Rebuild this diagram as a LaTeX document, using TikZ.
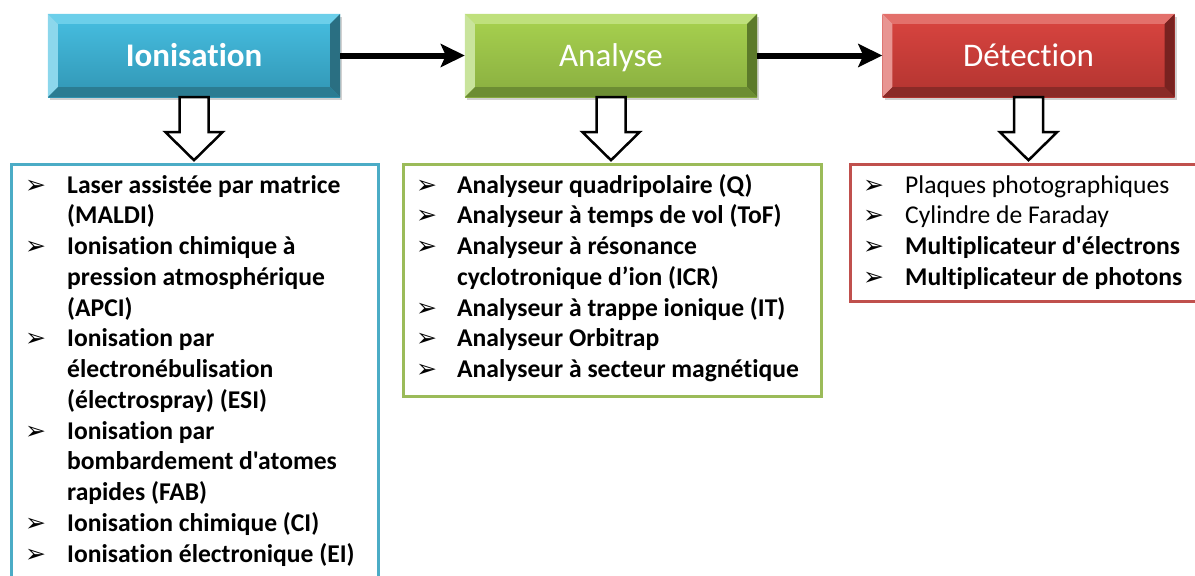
\documentclass[tikz,border=0pt]{standalone}
\usepackage{fontspec}
\newfontfamily\calib{Carlito}[Ligatures={NoCommon}]
\newfontfamily\symfont{DejaVu Sans}
\usetikzlibrary{arrows.meta,shadows}
\definecolor{ionA}{HTML}{47BFE2}
\definecolor{ionB}{HTML}{3196B4}
\definecolor{ionT}{HTML}{6CCFEA}
\definecolor{ionL}{HTML}{8CD7EC}
\definecolor{ionR}{HTML}{2A6F82}
\definecolor{ionD}{HTML}{2B7C92}
\definecolor{ionE}{HTML}{4BACC6}
\definecolor{anaA}{HTML}{A8D24F}
\definecolor{anaB}{HTML}{89AE40}
\definecolor{anaT}{HTML}{BFE07C}
\definecolor{anaL}{HTML}{C9E49C}
\definecolor{anaR}{HTML}{5C7A2A}
\definecolor{anaD}{HTML}{6C8D33}
\definecolor{anaE}{HTML}{9BBB59}
\definecolor{detA}{HTML}{DA4540}
\definecolor{detB}{HTML}{B23430}
\definecolor{detT}{HTML}{E3706B}
\definecolor{detL}{HTML}{E89592}
\definecolor{detR}{HTML}{782220}
\definecolor{detD}{HTML}{8A2A27}
\definecolor{detE}{HTML}{C0504D}
\tikzset{
  hdr/.style={minimum width=292pt, minimum height=83pt, inner sep=0pt, text=white,
    text height=21.2pt, text depth=0pt,
    font=\calib\fontsize{33}{36}\selectfont,
    drop shadow={shadow xshift=2pt, shadow yshift=-3pt, opacity=0.3, fill=black!60}},
  listbox/.style={line width=2.6pt, fill=white, inner sep=0pt, anchor=north west},
  itemtxt/.style={anchor=base west, inner sep=0pt, font=\calib\fontsize{25.6}{30}\selectfont},
  itembf/.style={itemtxt, font=\calib\fontsize{25.6}{30}\selectfont\bfseries},
  bul/.style={anchor=base west, inner sep=0pt, font=\symfont\fontsize{25}{28}\selectfont},
  hollow/.style={draw=black, fill=white, line width=2.5pt, line join=miter},
  flow/.style={line width=6pt, -{Stealth[length=24pt, width=23pt, inset=5pt]}}
}
\newcommand\bevelit[5]{%
  \fill[#2] (#1.north west) -- (#1.north east) -- ([shift={(-10,10)}]#1.north east) -- ([shift={(10,10)}]#1.north west) -- cycle;
  \fill[#3] (#1.north west) -- ([shift={(10,10)}]#1.north west) -- ([shift={(10,-10)}]#1.south west) -- (#1.south west) -- cycle;
  \fill[#4] (#1.north east) -- ([shift={(-10,10)}]#1.north east) -- ([shift={(-10,-10)}]#1.south east) -- (#1.south east) -- cycle;
  \fill[#5] (#1.south west) -- ([shift={(10,-10)}]#1.south west) -- ([shift={(-10,-10)}]#1.south east) -- (#1.south east) -- cycle;
}
\newcommand\hollowdown[1]{%
  \draw[hollow] ([shift={(-14.5,0)}]#1.south) -- ++(0,35) -- ++(-14,0) -- ([shift={(0,63)}]#1.south) -- ([shift={(28.5,35)}]#1.south) -- ++(-14,0) -- ([shift={(14.5,0)}]#1.south) -- cycle;
}
\begin{document}
\begin{tikzpicture}[x=1pt,y=-1pt]
\useasboundingbox (0,0) rectangle (1195,576);
% list boxes
\node[listbox, draw=ionE, minimum width=367pt, minimum height=440pt] (ionl) at (10,163) {};
\node[listbox, draw=anaE, minimum width=418pt, minimum height=232pt] (anal) at (402,163) {};
\node[listbox, draw=detE, minimum width=360pt, minimum height=137pt] (detl) at (849,163) {};
% headers
\node[hdr, top color=ionA, bottom color=ionB, font=\calib\fontsize{33}{36}\selectfont\bfseries] (ion) at (194,55.5) {Ionisation};
\bevelit{ion}{ionT}{ionL}{ionR}{ionD}
\node[hdr, top color=anaA, bottom color=anaB] (ana) at (611,55.5) {Analyse};
\bevelit{ana}{anaT}{anaL}{anaR}{anaD}
\node[hdr, top color=detA, bottom color=detB] (det) at (1028.5,55.5) {Détection};
\bevelit{det}{detT}{detL}{detR}{detD}
% flow arrows
\draw[flow] (ion.east) -- (ana.west);
\draw[flow] (ana.east) -- (det.west);
% down arrows
\hollowdown{ion}
\hollowdown{ana}
\hollowdown{det}
% Ionisation list
\foreach \b/\t [count=\i from 0] in {
  1/{Laser assistée par matrice}, 0/{(MALDI)},
  1/{Ionisation chimique à}, 0/{pression atmosphérique}, 0/{(APCI)},
  1/{Ionisation par}, 0/{électronébulisation}, 0/{(électrospray) (ESI)},
  1/{Ionisation par}, 0/{bombardement d'atomes}, 0/{rapides (FAB)},
  1/{Ionisation chimique (CI)}, 1/{Ionisation électronique (EI)}}{
  \node[itembf] (ionit\i) at (67,193+30.75*\i) {\t};
  \ifnum\b=1 \node[bul] (ionbu\i) at (25,193+30.75*\i) {➢}; \fi
}
% Analyse list
\foreach \b/\t [count=\i from 0] in {
  1/{Analyseur quadripolaire (Q)}, 1/{Analyseur à temps de vol (ToF)},
  1/{Analyseur à résonance}, 0/{cyclotronique d’ion (ICR)},
  1/{Analyseur à trappe ionique (IT)}, 1/{Analyseur Orbitrap},
  1/{Analyseur à secteur magnétique}}{
  \node[itembf] (anait\i) at (457,193+30.75*\i) {\t};
  \ifnum\b=1 \node[bul] (anabu\i) at (416,193+30.75*\i) {➢}; \fi
}
% Detection list
\foreach \w/\t [count=\i from 0] in {
  0/{Plaques photographiques}, 0/{Cylindre de Faraday},
  1/{Multiplicateur d'électrons}, 1/{Multiplicateur de photons}}{
  \ifnum\w=1
    \node[itembf] (detit\i) at (905,193+30.75*\i) {\t};
  \else
    \node[itemtxt] (detit\i) at (905,193+30.75*\i) {\t};
  \fi
  \node[bul] (detbu\i) at (863,193+30.75*\i) {➢};
}
\end{tikzpicture}
\end{document}
